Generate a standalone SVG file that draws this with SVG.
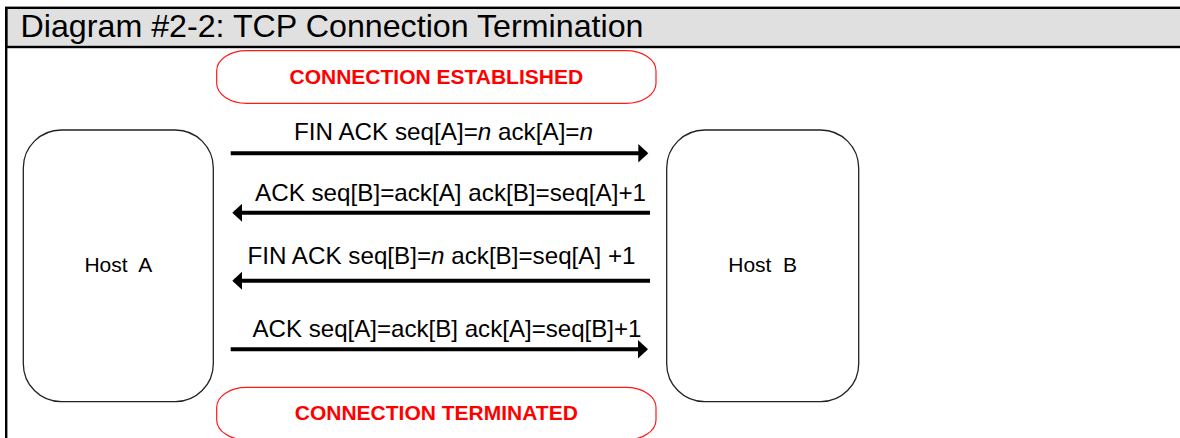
<svg xmlns="http://www.w3.org/2000/svg" width="1180" height="438" viewBox="0 0 1180 438">
  <style>
    .title { font-family: "Liberation Sans", Arial, sans-serif; font-size: 31.7px; fill: #000; }
    .pill { fill: #fff; stroke: #ff1a1a; stroke-width: 1.2; }
    .pilltext { font-family: "Liberation Sans", Arial, sans-serif; font-size: 21px; font-weight: bold; fill: #ff0000; text-anchor: middle; }
    .host { fill: #fff; stroke: #222; stroke-width: 1.3; }
    .hosttext { font-family: "Liberation Sans", Arial, sans-serif; font-size: 21px; fill: #000; text-anchor: middle; white-space: pre; }
    .label { font-family: "Liberation Sans", Arial, sans-serif; font-size: 24px; fill: #000; }
    .arrow { stroke: #000; stroke-width: 4; fill: none; marker-end: url(#head); }
    .it { font-style: italic; }
  </style>
  <defs>
    <marker id="head" markerUnits="userSpaceOnUse" markerWidth="12" markerHeight="20" refX="8" refY="9.3" orient="auto">
      <path d="M0,0 L10,9.3 L0,18.6 z" fill="#000"/>
    </marker>
  </defs>
  <rect x="0" y="0" width="1180" height="438" fill="#fff"/>

  <g id="header">
    <rect x="6.2" y="7.8" width="1180" height="39.2" fill="#e0e0e0" stroke="#000" stroke-width="2.4"/>
    <line x1="6.2" y1="7" x2="6.2" y2="438" stroke="#000" stroke-width="2.4"/>
    <text class="title" x="20.5" y="37.3" textLength="623" lengthAdjust="spacingAndGlyphs">Diagram #2-2: TCP Connection Termination</text>
  </g>

  <g id="established">
    <rect class="pill" x="216.7" y="50.7" width="439.3" height="52.6" rx="30" ry="20"/>
    <text class="pilltext" x="436.3" y="83.7">CONNECTION ESTABLISHED</text>
  </g>

  <g id="hostA">
    <rect class="host" x="23.3" y="130" width="190" height="271.7" rx="38" ry="38"/>
    <text class="hosttext" x="118.3" y="271.7" xml:space="preserve">Host  A</text>
  </g>

  <g id="hostB">
    <rect class="host" x="666.7" y="130" width="192" height="271.7" rx="38" ry="38"/>
    <text class="hosttext" x="762.7" y="271.7" xml:space="preserve">Host  B</text>
  </g>

  <g id="terminated">
    <rect class="pill" x="216.7" y="387.3" width="439.3" height="52.6" rx="30" ry="20"/>
    <text class="pilltext" x="436.3" y="420">CONNECTION TERMINATED</text>
  </g>

  <g id="connectors">
    <line class="arrow" x1="230.7" y1="153.3" x2="646.3" y2="153.3"/>
    <line class="arrow" x1="650" y1="212.7" x2="234.3" y2="212.7"/>
    <line class="arrow" x1="650" y1="280.7" x2="234.3" y2="280.7"/>
    <line class="arrow" x1="230.7" y1="349.3" x2="646" y2="349.3"/>
    <text class="label" x="294" y="140" textLength="299" lengthAdjust="spacingAndGlyphs">FIN ACK seq[A]=<tspan class="it">n</tspan> ack[A]=<tspan class="it">n</tspan></text>
    <text class="label" x="255" y="200.7" textLength="391" lengthAdjust="spacingAndGlyphs">ACK seq[B]=ack[A] ack[B]=seq[A]+1</text>
    <text class="label" x="247.5" y="263.5" textLength="388" lengthAdjust="spacingAndGlyphs">FIN ACK seq[B]=<tspan class="it">n</tspan> ack[B]=seq[A] +1</text>
    <text class="label" x="252.5" y="337.3" textLength="389" lengthAdjust="spacingAndGlyphs">ACK seq[A]=ack[B] ack[A]=seq[B]+1</text>
  </g>
</svg>
